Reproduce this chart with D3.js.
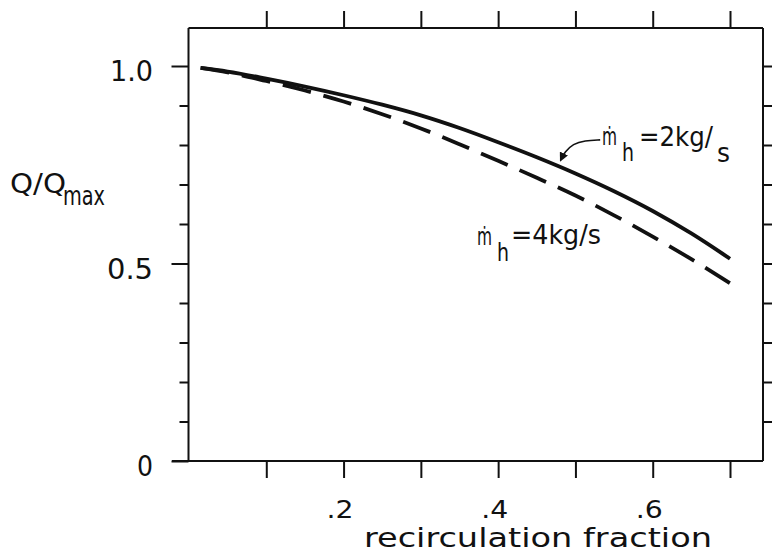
<!DOCTYPE html>
<html>
<head>
<meta charset="utf-8">
<script src="https://cdn.jsdelivr.net/npm/d3@7"></script>
<style>
  body { margin: 0; background: #fff; }
  text { font-family: "Liberation Sans Narrow", "DejaVu Sans Condensed", "DejaVu Sans", sans-serif; fill: #111; }
</style>
</head>
<body>
<div id="chart"></div>
<script>
// data
var recirc = [0.015, 0.05, 0.1, 0.15, 0.2, 0.25, 0.3, 0.35, 0.4, 0.45, 0.5, 0.55, 0.6, 0.65, 0.7];
var q2kg = [0.995, 0.986, 0.968, 0.948, 0.926, 0.902, 0.875, 0.843, 0.807, 0.769, 0.728, 0.683, 0.633, 0.576, 0.512];
var q4kg = [0.995, 0.984, 0.962, 0.938, 0.910, 0.878, 0.842, 0.802, 0.760, 0.717, 0.672, 0.622, 0.568, 0.511, 0.450];

var xTicks = [0.1, 0.2, 0.3, 0.4, 0.5, 0.6, 0.7];
var xLabelVals = [0.2, 0.4, 0.6];
var xLabelText = [".2", ".4", ".6"];
var yTicks = [0, 0.1, 0.2, 0.3, 0.4, 0.5, 0.6, 0.7, 0.8, 0.9, 1.0];
var yMajor = [0, 0.5, 1.0];
var yLabelText = ["0", "0.5", "1.0"];
var rightTicks = [0.1, 0.2, 0.3, 0.4, 0.5, 0.6, 0.7, 0.8, 0.9, 1.0];

// arrow pointing at the 2 kg/s curve (data units)
var arrowPts = [[0.532, 0.813], [0.512, 0.811], [0.497, 0.803], [0.486, 0.782], [0.481, 0.762]];

var W = 772, H = 555;
var frameL = 188.5, frameR = 763, frameT = 28, frameB = 461;

var svg = d3.select("#chart").append("svg").attr("width", W).attr("height", H);

var x = d3.scaleLinear().domain([0, 0.7]).range([189, 730]);
var y = d3.scaleLinear().domain([0, 1]).range([461, 66]);

// frame
var frame = svg.append("g").attr("stroke", "#111").attr("stroke-width", 2).attr("fill", "none");
frame.append("line").attr("x1", frameL).attr("y1", frameT).attr("x2", frameL).attr("y2", frameB);
frame.append("line").attr("x1", frameL).attr("y1", frameT).attr("x2", frameR).attr("y2", frameT);
frame.append("line").attr("x1", frameR).attr("y1", frameT).attr("x2", frameR).attr("y2", frameB);
frame.append("line").attr("x1", 172).attr("y1", frameB).attr("x2", frameR).attr("y2", frameB);

// bottom ticks
var bx = svg.append("g").attr("transform", "translate(0," + frameB + ")")
  .call(d3.axisBottom(x).tickValues(xTicks).tickSize(17).tickFormat(""));
bx.select(".domain").remove();

// top ticks
var tx = svg.append("g").attr("transform", "translate(0," + frameT + ")")
  .call(d3.axisTop(x).tickValues(xTicks).tickSize(17).tickFormat(""));
tx.select(".domain").remove();

// left ticks, longer at the labelled ones
var ly = svg.append("g").attr("transform", "translate(" + frameL + ",0)")
  .call(d3.axisLeft(y).tickValues(yTicks).tickSize(9).tickFormat(""));
ly.select(".domain").remove();
ly.selectAll(".tick line").filter(function(d){ return yMajor.indexOf(d) >= 0; }).attr("x2", -17);

// right ticks
var ry = svg.append("g").attr("transform", "translate(" + frameR + ",0)")
  .call(d3.axisRight(y).tickValues(rightTicks).tickSize(12).tickFormat(""));
ry.select(".domain").remove();

svg.selectAll(".tick line").attr("stroke", "#111").attr("stroke-width", 2);

// tick labels
for (i = 0; i < xLabelVals.length; i++) {
  svg.append("text")
    .attr("x", x(xLabelVals[i]) + 10)
    .attr("y", 518)
    .attr("text-anchor", "end")
    .attr("font-size", 25)
    .attr("textLength", 27)
    .attr("lengthAdjust", "spacingAndGlyphs")
    .text(xLabelText[i]);
}
var yLabW = [16, 46, 43];
for (i = 0; i < yMajor.length; i++) {
  svg.append("text")
    .attr("x", 153)
    .attr("y", y(yMajor[i]) + 15)
    .attr("text-anchor", "end")
    .attr("font-size", 28)
    .attr("textLength", yLabW[i])
    .attr("lengthAdjust", "spacingAndGlyphs")
    .text(yLabelText[i]);
}

// axis titles
svg.append("text").attr("x", 364).attr("y", 547).attr("font-size", 26)
  .attr("textLength", 348).attr("lengthAdjust", "spacingAndGlyphs")
  .text("recirculation fraction");
svg.append("text").attr("x", 10).attr("y", 193).attr("font-size", 27)
  .attr("textLength", 56).attr("lengthAdjust", "spacingAndGlyphs")
  .text("Q/Q");
svg.append("text").attr("x", 63).attr("y", 205).attr("font-size", 27)
  .attr("textLength", 42).attr("lengthAdjust", "spacingAndGlyphs")
  .text("max");

// curves
var line = d3.line()
  .x(function(d){ return x(d[0]); })
  .y(function(d){ return y(d[1]); })
  .curve(d3.curveMonotoneX);

svg.append("path")
  .datum(recirc.map(function(v, k){ return [v, q2kg[k]]; }))
  .attr("d", line)
  .attr("fill", "none").attr("stroke", "#111").attr("stroke-width", 3.8);

svg.append("path")
  .datum(recirc.map(function(v, k){ return [v, q4kg[k]]; }))
  .attr("d", line)
  .attr("fill", "none").attr("stroke", "#111").attr("stroke-width", 3.8)
  .attr("stroke-dasharray", "29,13");

// arrow
var arrowLine = d3.line()
  .x(function(d){ return x(d[0]); })
  .y(function(d){ return y(d[1]); })
  .curve(d3.curveBasis);
svg.append("defs").append("marker")
  .attr("id", "head").attr("viewBox", "0 0 10 10").attr("refX", 8).attr("refY", 5)
  .attr("markerWidth", 9).attr("markerHeight", 9).attr("markerUnits", "userSpaceOnUse")
  .attr("orient", "auto")
  .append("path").attr("d", "M0,0 L10,5 L0,10 Z").attr("fill", "#111");
svg.append("path")
  .datum(arrowPts)
  .attr("d", arrowLine)
  .attr("fill", "none").attr("stroke", "#111").attr("stroke-width", 1.6)
  .attr("marker-end", "url(#head)");

// curve labels
function flowLabel(xm, ybase, value, wRest, subS) {
  svg.append("text").attr("x", xm).attr("y", ybase).attr("font-size", 24)
    .attr("textLength", 15).attr("lengthAdjust", "spacingAndGlyphs").text("\u1E41");
  svg.append("text").attr("x", xm + 20).attr("y", ybase + 16).attr("font-size", 24)
    .attr("textLength", 12).attr("lengthAdjust", "spacingAndGlyphs").text("h");
  if (subS) {
    svg.append("text").attr("x", xm + 37).attr("y", ybase + 1).attr("font-size", 27)
      .attr("textLength", wRest).attr("lengthAdjust", "spacingAndGlyphs").text("=" + value + "kg/");
    svg.append("text").attr("x", xm + 115).attr("y", ybase + 17).attr("font-size", 26)
      .attr("textLength", 13).attr("lengthAdjust", "spacingAndGlyphs").text("s");
  } else {
    svg.append("text").attr("x", xm + 34).attr("y", ybase - 1).attr("font-size", 27)
      .attr("textLength", wRest).attr("lengthAdjust", "spacingAndGlyphs").text("=" + value + "kg/s");
  }
}
flowLabel(602, 145, 2, 74, true);
flowLabel(477, 245, 4, 90, false);
</script>
</body>
</html>
